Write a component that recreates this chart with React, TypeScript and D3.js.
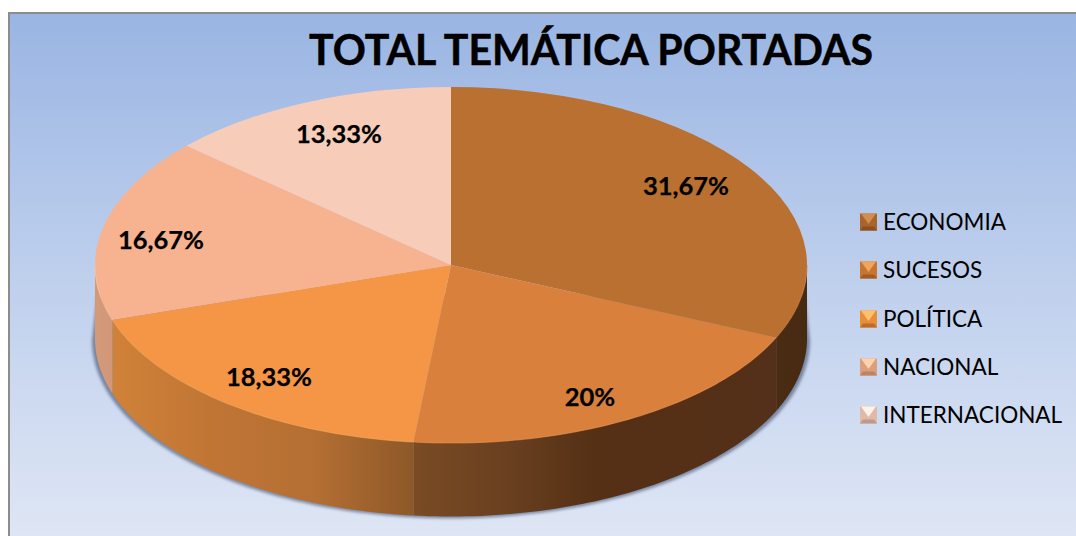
import React from "react";
import * as d3 from "d3";

const categories = ["ECONOMIA", "SUCESOS", "POLÍTICA", "NACIONAL", "INTERNACIONAL"];
const values = [31.67, 20, 18.33, 16.67, 13.33];
const valueLabels = ["31,67%", "20%", "18,33%", "16,67%", "13,33%"];
const topColors = ["#b97031", "#d9803c", "#f59646", "#f7b38f", "#f7cdb9"];
const wallStops = [
  ["#4a2c13", "#472a12"],
  ["#7a4b24", "#6a4020", "#553015", "#552f16", "#54301a"],
  ["#d08238", "#c07535", "#b56f33", "#8d5828"],
  ["#d49a78", "#d0977a"],
  ["#d0977a", "#d0977a"],
];
const labelAt: [number, number][] = [[686, 186], [590, 397], [269, 377], [161, 240], [339, 134]];
const legendY = [222, 270, 319, 367, 415];
const legendBevel = [
  ["#d08f50", "#a9642c", "#8a5023"],
  ["#f0a45c", "#c8752f", "#a35c24"],
  ["#ffc06c", "#ea8d38", "#bb6c28"],
  ["#ffd2ac", "#dd9e7c", "#b98468"],
  ["#fff0e8", "#e0baa8", "#bc9a8c"],
];

const W = 1076, H = 536;
const cx = 451, cy = 265, rx = 356, ry = 178, depth = 73.5;

const pie = d3.pie<number>().sort(null).startAngle(0).endAngle(2 * Math.PI);
const slices = pie(values);
const arc = d3.arc<d3.PieArcDatum<number>>().innerRadius(0).outerRadius(rx);
const px = (t: number) => cx + rx * Math.sin(t);
const py = (t: number) => cy - ry * Math.cos(t);

function wallPath(a0: number, a1: number) {
  const lo = Math.max(a0, Math.PI / 2);
  const hi = Math.min(a1, (3 * Math.PI) / 2);
  if (lo >= hi) return null;
  const ts = d3.range(0, 61).map((i) => lo + ((hi - lo) * i) / 60);
  const line = d3.line<[number, number]>();
  const top = ts.map((t) => [px(t), py(t)] as [number, number]);
  const bot = ts.slice().reverse().map((t) => [px(t), py(t) + depth] as [number, number]);
  return { d: line([...top, ...bot])! + "Z", x0: Math.min(px(lo), px(hi)), x1: Math.max(px(lo), px(hi)) };
}

function rimPath(a0: number, a1: number) {
  const lo = Math.max(a0, Math.PI / 2);
  const hi = Math.min(a1, (3 * Math.PI) / 2);
  if (lo >= hi) return null;
  const ts = d3.range(0, 61).map((i) => lo + ((hi - lo) * i) / 60);
  return d3.line<number>().x(px).y(py)(ts)!;
}

function shadowPath() {
  const ts = d3.range(0, 121).map((i) => Math.PI / 2 + (Math.PI * i) / 120);
  const pts = ts.map((t) => [cx + (rx + 3) * Math.sin(t), cy + depth + 2 - ry * Math.cos(t)] as [number, number]);
  return d3.line<[number, number]>()([[cx + rx - 2, cy + 30], ...pts, [cx - rx + 2, cy + 30]])! + "Z";
}

export default function App() {
  const font = "Lato, 'Open Sans', sans-serif";
  return (
    <svg width={W} height={H} style={{ position: "absolute", left: 0, top: 0 }}>
      <defs>
        <linearGradient id="bg" x1="0" y1="0" x2="0" y2="1">
          <stop offset="0" stopColor="#9ab5e3" />
          <stop offset="0.5" stopColor="#bfd0ed" />
          <stop offset="1" stopColor="#e0e7f5" />
        </linearGradient>
        <filter id="sh" x="-5%" y="-5%" width="110%" height="115%">
          <feGaussianBlur stdDeviation="1.8" />
        </filter>
        {slices.map((s, i) => {
          const w = wallPath(s.startAngle, s.endAngle);
          if (!w) return null;
          const stops = wallStops[i];
          return (
            <linearGradient key={i} id={`wall${i}`} gradientUnits="userSpaceOnUse" x1={w.x0} x2={w.x1} y1="0" y2="0">
              {stops.map((c, j) => (
                <stop key={j} offset={j / (stops.length - 1)} stopColor={c} />
              ))}
            </linearGradient>
          );
        })}
      </defs>

      <rect x={9} y={13} width={W - 8} height={H} fill="url(#bg)" stroke="#8c8c8c" strokeWidth={2} />

      <path d={shadowPath()} fill="#3f4f70" opacity={0.6} filter="url(#sh)" />

      {slices.map((s, i) => {
        const w = wallPath(s.startAngle, s.endAngle);
        return w ? <path key={i} d={w.d} fill={`url(#wall${i})`} /> : null;
      })}

      <g transform={`translate(${cx},${cy}) scale(1,${ry / rx})`}>
        {slices.map((s, i) => (
          <path key={i} d={arc(s)!} fill={topColors[i]} />
        ))}
      </g>

      {slices.map((s, i) => {
        const d = rimPath(s.startAngle, s.endAngle);
        return d ? (
          <path key={i} d={d} fill="none" stroke={d3.color(topColors[i])!.brighter(0.3).formatHex()} strokeWidth={1.2} opacity={0.6} />
        ) : null;
      })}

      <text x={591} y={65} textAnchor="middle" fontFamily={font} fontWeight={700} fontSize={42} fill="#000" stroke="#000" strokeWidth={0.5} textLength={564} lengthAdjust="spacingAndGlyphs">
        TOTAL TEMÁTICA PORTADAS
      </text>

      {valueLabels.map((t, i) => (
        <text key={i} x={labelAt[i][0]} y={labelAt[i][1]} dy="0.35em" textAnchor="middle" fontFamily={font} fontWeight={700} fontSize={25.5} fill="#000" stroke="#000" strokeWidth={0.25}>
          {t}
        </text>
      ))}

      {categories.map((c, i) => {
        const x = 860, y = legendY[i] - 8.5, sz = 17;
        const p = (pts: number[][]) => pts.map((q) => q.join(",")).join(" ");
        const [tc, mc, bc] = legendBevel[i];
        return (
          <g key={c}>
            <rect x={x} y={y} width={sz} height={sz} fill={mc} />
            <polygon points={p([[x, y + sz], [x + 3, y + sz - 4], [x + sz - 3, y + sz - 4], [x + sz, y + sz]])} fill={bc} />
            <polygon points={p([[x + 1, y], [x + sz - 1, y], [x + sz / 2, y + sz * 0.62]])} fill={tc} />
            <text x={883} y={legendY[i]} dy="0.35em" fontFamily={font} fontSize={22.5} fill="#000">
              {c}
            </text>
          </g>
        );
      })}
    </svg>
  );
}
